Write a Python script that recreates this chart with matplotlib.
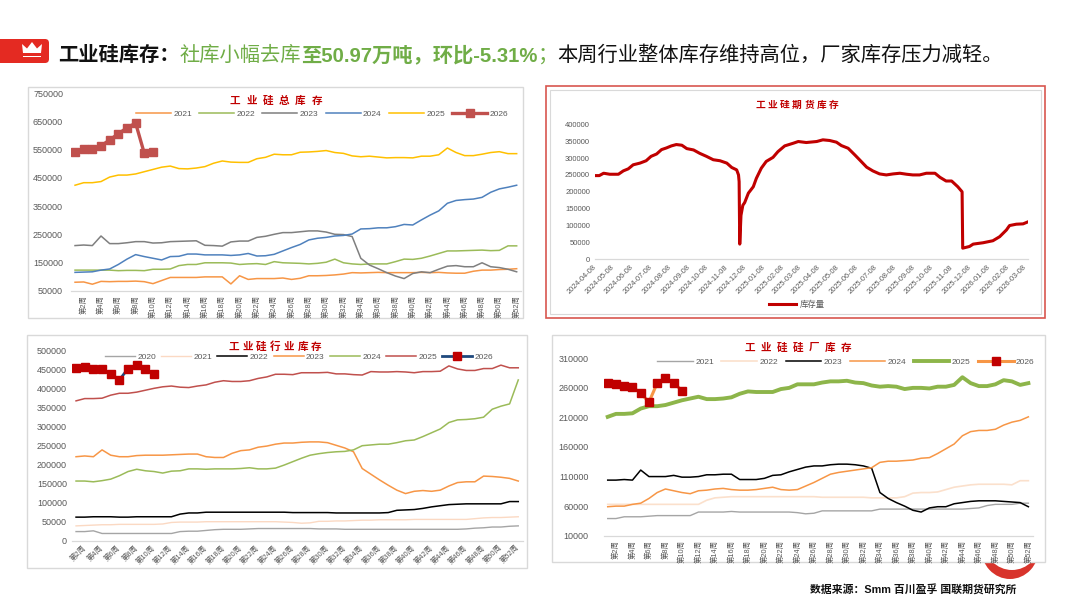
import numpy as np
import pandas as pd
import matplotlib
matplotlib.use('Agg')
import matplotlib.pyplot as plt
from matplotlib.patches import Rectangle, FancyBboxPatch, Polygon, Ellipse

plt.rcParams['font.family'] = ['Liberation Sans', 'Noto Sans CJK SC', 'DejaVu Sans']

W, H = 1080, 608

# ---------------- data (thousand tonnes) ----------------
weeks = np.arange(1, 53)
tick_weeks = weeks[1::2]
tick_labels = [f'第{w}周' for w in tick_weeks]

# 工业硅总库存
total_2021 = [80, 81, 73, 83, 82, 83, 83, 84, 82, 75, 86, 97, 97, 97, 97, 99, 99, 99, 74, 103,
              90, 93, 93, 93, 95, 90, 94, 103, 103, 104, 106, 109, 114, 113, 114, 115, 114, 114, 114, 114,
              115, 114, 115, 113, 112, 112, 119, 123, 123, 125, 126, 128]
total_2022 = [123, 123, 123, 123, 123, 121, 122, 122, 121, 126, 126, 127, 139, 143, 143, 149, 149, 149, 148, 143,
              145, 146, 143, 153, 149, 148, 147, 145, 147, 151, 162, 149, 145, 143, 145, 145, 145, 153, 162, 161,
              165, 173, 182, 191, 191, 192, 193, 194, 192, 193, 209, 209]
total_2023 = [210, 212, 210, 244, 217, 217, 220, 224, 224, 219, 220, 224, 225, 226, 227, 211, 210, 208, 223, 226,
              226, 239, 243, 250, 256, 256, 259, 262, 262, 258, 250, 249, 242, 165, 141, 128, 114, 102, 93, 111,
              117, 114, 126, 137, 139, 135, 135, 149, 135, 132, 126, 117]
total_2024 = [115, 116, 117, 123, 127, 143, 162, 178, 171, 165, 159, 171, 172, 180, 180, 177, 177, 177, 175, 177,
              182, 173, 174, 179, 191, 203, 214, 230, 236, 239, 244, 246, 251, 269, 270, 273, 273, 277, 285, 283,
              301, 318, 333, 360, 370, 373, 375, 381, 399, 411, 417, 424]
total_2025 = [424, 433, 433, 437, 453, 460, 460, 464, 472, 480, 488, 492, 483, 482, 485, 490, 502, 510, 506, 505,
              505, 518, 523, 534, 532, 532, 541, 542, 544, 547, 540, 537, 528, 525, 527, 524, 521, 522, 522, 521,
              527, 527, 532, 556, 540, 529, 529, 534, 540, 543, 536, 536]
total_2026 = [543, 553, 551, 563, 585, 606, 628, 644, 537, 541]

# 工业硅行业库存
ind_2020 = [24, 24, 26, 19, 19, 19, 19, 19, 19, 19, 19, 19, 24, 25, 25, 27, 29, 30, 30, 30,
            31, 32, 32, 32, 32, 32, 32, 32, 31, 31, 31, 30, 30, 30, 30, 30, 30, 30, 30, 30,
            30, 30, 30, 30, 30, 31, 33, 34, 36, 36, 38, 39]
ind_2021 = [39, 40, 41, 42, 42, 43, 43, 43, 43, 43, 44, 48, 49, 49, 49, 50, 50, 50, 50, 50,
            50, 50, 50, 50, 49, 48, 46, 47, 51, 51, 52, 52, 53, 54, 54, 55, 55, 55, 55, 56,
            56, 56, 56, 56, 56, 56, 58, 60, 61, 61, 62, 63]
ind_2022 = [62, 62, 63, 63, 63, 62, 62, 63, 63, 63, 63, 63, 70, 73, 73, 75, 75, 75, 75, 75,
            75, 75, 75, 75, 75, 74, 74, 74, 74, 74, 73, 73, 73, 73, 73, 73, 74, 80, 81, 82,
            85, 89, 92, 95, 96, 97, 97, 97, 97, 97, 103, 103]
ind_2023 = [221, 223, 221, 239, 225, 221, 221, 224, 225, 225, 225, 226, 227, 228, 228, 221, 219, 219, 230, 237,
            239, 246, 249, 254, 257, 257, 259, 260, 260, 258, 251, 244, 234, 190, 175, 160, 146, 133, 124, 130,
            132, 130, 133, 144, 153, 155, 155, 170, 169, 167, 164, 157]
ind_2024 = [157, 157, 155, 158, 162, 171, 182, 188, 184, 182, 178, 183, 184, 189, 189, 188, 189, 189, 189, 190,
            192, 189, 189, 191, 199, 208, 217, 225, 229, 232, 234, 235, 239, 250, 252, 254, 254, 258, 263, 265,
            274, 284, 294, 311, 318, 319, 321, 325, 346, 354, 360, 423]
ind_2025 = [368, 374, 374, 375, 383, 388, 388, 391, 396, 401, 405, 407, 404, 403, 407, 410, 417, 421, 419, 419,
            421, 427, 431, 438, 438, 437, 442, 442, 442, 443, 439, 439, 437, 436, 445, 444, 444, 445, 444, 442,
            445, 445, 446, 460, 452, 448, 448, 453, 453, 462, 455, 455]
ind_2026 = [455, 458, 453, 453, 439, 423, 453, 463, 452, 438]

# 工业硅硅厂库存
fac_2021 = [39, 39, 42, 42, 42, 43, 44, 44, 44, 44, 44, 50, 50, 50, 50, 51, 50, 50, 50, 50,
            50, 50, 50, 49, 47, 48, 52, 52, 52, 52, 52, 52, 52, 55, 55, 55, 55, 55, 55, 55,
            55, 55, 55, 55, 56, 57, 61, 63, 63, 63, 65, 65]
fac_2022 = [63, 63, 63, 63, 63, 63, 63, 63, 63, 63, 63, 63, 70, 74, 75, 76, 76, 76, 76, 76,
            76, 76, 76, 76, 76, 76, 75, 75, 75, 75, 75, 75, 74, 74, 74, 74, 76, 82, 83, 83,
            84, 88, 92, 94, 96, 97, 97, 97, 97, 96, 103, 103]
fac_2023 = [104, 104, 105, 104, 121, 110, 110, 110, 112, 109, 109, 110, 113, 113, 114, 114, 105, 105, 105, 107,
            112, 113, 118, 122, 126, 128, 128, 130, 131, 131, 130, 128, 124, 83, 73, 66, 60, 53, 50, 57,
            59, 59, 64, 66, 68, 69, 69, 69, 68, 67, 66, 59]
fac_2024 = [59, 60, 60, 63, 65, 73, 83, 89, 86, 83, 81, 86, 87, 89, 90, 88, 87, 87, 88, 90,
            92, 88, 87, 88, 94, 100, 107, 114, 117, 119, 121, 123, 125, 134, 136, 136, 137, 138, 141, 142,
            149, 157, 165, 179, 186, 188, 188, 190, 197, 202, 205, 211]
fac_2025 = [211, 216, 216, 217, 225, 229, 229, 231, 235, 239, 242, 245, 241, 241, 242, 244, 250, 254, 253, 253,
            253, 258, 260, 266, 266, 266, 269, 271, 271, 272, 269, 268, 264, 262, 263, 262, 258, 260, 260, 259,
            262, 262, 265, 278, 268, 263, 263, 266, 273, 271, 265, 268]
fac_2026 = [268, 267, 263, 262, 251, 236, 268, 276, 269, 255]

# 工业硅期货库存
fut_dates = ['2024-04-08', '2024-04-15', '2024-04-22', '2024-05-02', '2024-05-16', '2024-05-24',
             '2024-06-01', '2024-06-09', '2024-06-20', '2024-06-30', '2024-07-08', '2024-07-17',
             '2024-07-25', '2024-08-02', '2024-08-10', '2024-08-18', '2024-08-27', '2024-09-04',
             '2024-09-15', '2024-09-25', '2024-10-06', '2024-10-17', '2024-10-28', '2024-11-08',
             '2024-11-16', '2024-11-24', '2024-11-27', '2024-11-28', '2024-11-29', '2024-12-01',
             '2024-12-04', '2024-12-07', '2024-12-13', '2024-12-21', '2024-12-26', '2025-01-03',
             '2025-01-11', '2025-01-22', '2025-01-30', '2025-02-10', '2025-02-24', '2025-03-04',
             '2025-03-17', '2025-04-03', '2025-04-13', '2025-04-24', '2025-05-05', '2025-05-13',
             '2025-05-24', '2025-06-04', '2025-06-12', '2025-06-23', '2025-07-03', '2025-07-14',
             '2025-07-25', '2025-08-05', '2025-08-16', '2025-08-27', '2025-09-06', '2025-09-17',
             '2025-09-28', '2025-10-12', '2025-10-20', '2025-10-30', '2025-11-08', '2025-11-18',
             '2025-11-25', '2025-11-26', '2025-12-07', '2025-12-13', '2025-12-29', '2026-01-14',
             '2026-01-25', '2026-02-05', '2026-02-10', '2026-02-21', '2026-03-04', '2026-03-12']
fut_stock = [248, 248, 255, 252, 252, 262, 268, 280, 285, 292, 305, 312, 325, 330, 336, 340, 338, 328,
             324, 314, 305, 295, 292, 285, 272, 265, 250, 230, 45, 130, 160, 168, 196, 215, 240, 270,
             290, 302, 319, 336, 344, 349, 346, 349, 354, 352, 347, 337, 329, 309, 294, 273, 262, 253,
             250, 253, 255, 252, 250, 250, 255, 255, 243, 232, 232, 215, 200, 33, 38, 45, 49, 55,
             67, 87, 100, 104, 105, 111]

# ---------------- figure ----------------
fig = plt.figure(figsize=(W / 100, H / 100), dpi=100)

bg = fig.add_axes([0, 0, 1, 1], zorder=-5)
bg.set_xlim(0, W)
bg.set_ylim(H, 0)
bg.axis('off')

# red swoosh behind lower-right panel
bg.add_patch(Ellipse((1010, 548), 58, 62, fc='#D8342C', ec='none', zorder=0))
bg.add_patch(Ellipse((1012, 541), 56, 58, fc='white', ec='none', zorder=0.5))

# panel frames
bg.add_patch(Rectangle((28, 87), 495, 231, fc='white', ec='#D9D9D9', lw=1, zorder=1))
bg.add_patch(Rectangle((546, 86), 499, 232, fc='white', ec='#D8564F', lw=1.2, zorder=1))
bg.add_patch(Rectangle((550, 90), 491, 224, fill=False, ec='#D9D9D9', lw=0.8, zorder=1))
bg.add_patch(Rectangle((27, 335), 500, 233, fc='white', ec='#D9D9D9', lw=1, zorder=1))
bg.add_patch(Rectangle((552, 335), 493, 227, fc='white', ec='#D9D9D9', lw=1, zorder=1))

# header icon
bg.add_patch(FancyBboxPatch((-10, 39), 59, 24, boxstyle='round,pad=0,rounding_size=4',
                            fc='#E42A22', ec='none', zorder=2))
bg.add_patch(Polygon([(23, 53), (22, 44), (27, 48.5), (32, 42), (37, 48.5), (42, 44), (41, 53)],
                     closed=True, fc='white', ec='none', zorder=3))
bg.add_patch(Rectangle((23, 55.5), 18, 1.6, fc='white', ec='none', zorder=3))

# header text, laid out piece by piece
header = [('工业硅库存：', '#111111', 'bold'),
          ('社库小幅去库', '#70AD47', 'normal'),
          ('至50.97万吨，环比-5.31%', '#70AD47', 'bold'),
          ('；', '#70AD47', 'normal'),
          ('本周行业整体库存维持高位，厂家库存压力减轻。', '#111111', 'normal')]
renderer = fig.canvas.get_renderer()
x = 58
for s, c, wgt in header:
    t = bg.text(x, 55, s, fontsize=14.6, color=c, weight=wgt, ha='left', va='center', zorder=3)
    x += t.get_window_extent(renderer).width

bg.text(810, 590, '数据来源：Smm 百川盈孚 国联期货研究所', fontsize=7.8, weight='bold',
        color='#111111', ha='left', va='center', zorder=3)


def spaced_title(cx, cy, s, size, pitch):
    x0 = cx - (len(s) - 1) * pitch / 2
    for i, ch in enumerate(s):
        bg.text(x0 + i * pitch, cy, ch, fontsize=size, color='#C00000', weight='bold',
                ha='center', va='center', zorder=3)


spaced_title(276, 101, '工业硅总库存', 7.6, 16.3)
spaced_title(797, 105, '工业硅期货库存', 7.0, 12.3)
spaced_title(275, 347, '工业硅行业库存', 7.6, 13.8)
spaced_title(798, 348, '工业硅硅厂库存', 7.6, 16.0)


def px_axes(l, t, r, b):
    return fig.add_axes([l / W, 1 - b / H, (r - l) / W, (b - t) / H])


def style(ax):
    for s in ('top', 'right', 'left'):
        ax.spines[s].set_visible(False)
    ax.spines['bottom'].set_color('#D9D9D9')
    ax.spines['bottom'].set_linewidth(0.9)
    ax.patch.set_alpha(0)
    ax.tick_params(length=0, colors='#595959')


def week_chart(rect, series, yticks, xrot, ypad, xpad, leg_xy, hl, cs):
    ax = px_axes(*rect)
    style(ax)
    for name, vals, st in series:
        ax.plot(weeks[:len(vals)], np.array(vals) * 1000, label=name, **st)
    ax.set_xlim(0.5, 52.5)
    ax.set_ylim(yticks[0], yticks[-1])
    ax.set_yticks(yticks)
    ax.set_yticklabels([str(v) for v in yticks], fontsize=6.5)
    ax.tick_params(axis='y', pad=ypad)
    ax.set_xticks(tick_weeks)
    if xrot == 90:
        ax.set_xticklabels(tick_labels, rotation=90, fontsize=5.3, ha='center', va='top')
    else:
        ax.set_xticklabels(tick_labels, rotation=45, fontsize=5.3, ha='right', va='center',
                           rotation_mode='anchor')
    ax.tick_params(axis='x', pad=xpad)
    ax.legend(loc='center', bbox_to_anchor=(leg_xy[0] / W, 1 - leg_xy[1] / H),
              bbox_transform=fig.transFigure, ncol=len(series), frameon=False, fontsize=6,
              handlelength=hl, handletextpad=0.3, columnspacing=cs, numpoints=1,
              borderpad=0, labelcolor='#595959')
    return ax


# top-left: 工业硅总库存
week_chart((70.7, 93.3, 521, 290.7),
           [('2021', total_2021, dict(color='#F79646', lw=1.1)),
            ('2022', total_2022, dict(color='#9BBB59', lw=1.1)),
            ('2023', total_2023, dict(color='#7F7F7F', lw=1.1)),
            ('2024', total_2024, dict(color='#4F81BD', lw=1.1)),
            ('2025', total_2025, dict(color='#FFC000', lw=1.1)),
            ('2026', total_2026, dict(color='#C0504D', lw=2.4, marker='s', ms=6, zorder=5))],
           list(range(50000, 750001, 100000)), 90, 5.5, 3, (322, 114), 4.2, 0.85)

# bottom-left: 工业硅行业库存
week_chart((71.7, 350.7, 522.6, 540.7),
           [('2020', ind_2020, dict(color='#A5A5A5', lw=1.0)),
            ('2021', ind_2021, dict(color='#FBD9C3', lw=1.0)),
            ('2022', ind_2022, dict(color='#000000', lw=1.1)),
            ('2023', ind_2023, dict(color='#F79646', lw=1.1)),
            ('2024', ind_2024, dict(color='#9BBB59', lw=1.1)),
            ('2025', ind_2025, dict(color='#C0504D', lw=1.1)),
            ('2026', ind_2026, dict(color='#1F497D', lw=2.0, marker='s', ms=6,
                                    mfc='#C00000', mec='#C00000', zorder=5))],
           list(range(0, 500001, 50000)), 45, 3.4, 4, (299, 357), 3.6, 0.6)

# bottom-right: 工业硅硅厂库存
week_chart((603.6, 358.3, 1032.5, 535.7),
           [('2021', fac_2021, dict(color='#A5A5A5', lw=1.0)),
            ('2022', fac_2022, dict(color='#FBE0CC', lw=1.2)),
            ('2023', fac_2023, dict(color='#000000', lw=1.1)),
            ('2024', fac_2024, dict(color='#F79646', lw=1.1)),
            ('2025', fac_2025, dict(color='#8DB54A', lw=2.8)),
            ('2026', fac_2026, dict(color='#F79646', lw=2.2, marker='s', ms=5.5,
                                    mfc='#C00000', mec='#C00000', zorder=5))],
           list(range(10000, 310001, 50000)), 90, 11, 3, (846, 362), 4.3, 0.85)

# top-right: 工业硅期货库存
ax = px_axes(595, 124.3, 1028, 259.3)
style(ax)
dates = pd.to_datetime(fut_dates)
ax.plot(dates, np.array(fut_stock) * 1000, color='#C00000', lw=2.2, label='库存量')
ax.set_xlim(pd.Timestamp('2024-04-08'), pd.Timestamp('2026-03-12'))
ax.set_ylim(0, 400000)
yt = list(range(0, 400001, 50000))
ax.set_yticks(yt)
ax.set_yticklabels([str(v) for v in yt], fontsize=5.5)
ax.tick_params(axis='y', pad=3.6)
mticks = pd.date_range('2024-04-08', periods=24, freq=pd.DateOffset(months=1))
ax.set_xticks(mticks.to_pydatetime())
ax.set_xticklabels([d.strftime('%Y-%m-%d') for d in mticks], rotation=45, fontsize=5.3,
                   ha='right', va='center', rotation_mode='anchor')
ax.tick_params(axis='x', pad=5)
ax.legend(loc='center', bbox_to_anchor=(797 / W, 1 - 305 / H), bbox_transform=fig.transFigure,
          frameon=False, fontsize=6, handlelength=3.2, handletextpad=0.4, borderpad=0,
          labelcolor='#595959')

fig.savefig('out.png', dpi=100)
